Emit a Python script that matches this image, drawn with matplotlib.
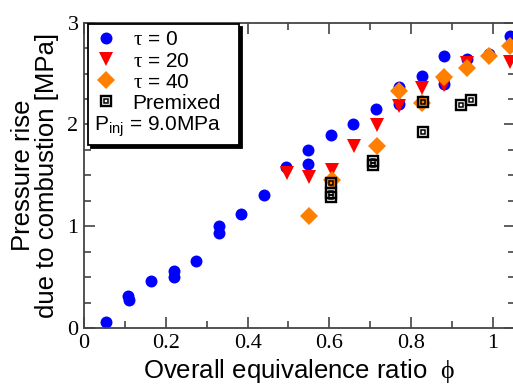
import matplotlib
matplotlib.use("Agg")
import matplotlib.pyplot as plt
from matplotlib.ticker import MultipleLocator

plt.rcParams['font.family'] = ['Liberation Sans', 'DejaVu Sans']
plt.rcParams['mathtext.fontset'] = 'custom'
plt.rcParams['mathtext.rm'] = 'Liberation Sans'
plt.rcParams['mathtext.it'] = 'Liberation Serif'
plt.rcParams['mathtext.sf'] = 'Liberation Sans'

# tau = 0
phi_t0 = [0.054, 0.108, 0.110, 0.164, 0.219, 0.219, 0.274, 0.329, 0.329, 0.384,
          0.440, 0.494, 0.549, 0.549, 0.605, 0.659, 0.715, 0.770, 0.770, 0.826,
          0.881, 0.881, 0.936, 0.991, 1.042]
dp_t0 = [0.06, 0.31, 0.28, 0.46, 0.56, 0.50, 0.66, 1.00, 0.93, 1.12,
         1.31, 1.58, 1.75, 1.61, 1.90, 2.00, 2.15, 2.37, 2.20, 2.48,
         2.67, 2.40, 2.64, 2.69, 2.87]
# tau = 20
phi_t20 = [0.496, 0.551, 0.606, 0.661, 0.716, 0.770, 0.826, 0.880, 0.936, 1.042]
dp_t20 = [1.52, 1.48, 1.55, 1.79, 1.99, 2.18, 2.36, 2.39, 2.60, 2.61]
# tau = 40
phi_t40 = [0.551, 0.606, 0.716, 0.770, 0.826, 0.880, 0.936, 0.991, 1.042]
dp_t40 = [1.10, 1.45, 1.79, 2.33, 2.21, 2.47, 2.55, 2.67, 2.77]
# premixed
phi_pm = [0.603, 0.603, 0.603, 0.706, 0.706, 0.828, 0.828, 0.921, 0.946]
dp_pm = [1.42, 1.33, 1.29, 1.64, 1.60, 2.22, 1.93, 2.19, 2.24]

fig = plt.figure(figsize=(5.13, 3.89), dpi=100)
ax = fig.add_axes([84 / 513, 61 / 389, 431 / 513, 305.3 / 389])

h0, = ax.plot(phi_t0, dp_t0, 'o', color='#0000ff', ms=8.6, mew=0)
h20, = ax.plot(phi_t20, dp_t20, 'v', color='#ff0000', ms=10, mew=0)
h40, = ax.plot(phi_t40, dp_t40, 'D', color='#ff8000', ms=9, mew=0)
hpm1, = ax.plot(phi_pm, dp_pm, 's', mfc='none', mec='black', ms=7.6, mew=1.7)
hpm2, = ax.plot(phi_pm, dp_pm, 's', mfc='none', mec='black', ms=3.0, mew=1.1)

ax.set_xlim(0, 1.054)
ax.set_ylim(0, 3)
ax.xaxis.set_major_locator(MultipleLocator(0.2))
ax.xaxis.set_minor_locator(MultipleLocator(0.1))
ax.yaxis.set_major_locator(MultipleLocator(1))
ax.yaxis.set_minor_locator(MultipleLocator(0.25))
ax.xaxis.set_major_formatter(plt.FuncFormatter(lambda v, p: '%g' % round(v, 2)))
ax.tick_params(which='both', direction='in', top=True, right=True,
               color='#444444', width=1.2, labelsize=16, pad=4)
ax.tick_params(which='major', length=8)
ax.tick_params(which='minor', length=5)
for lab in ax.get_xticklabels() + ax.get_yticklabels():
    lab.set_fontfamily('Liberation Serif')
for sp in ax.spines.values():
    sp.set_color('#444444')
    sp.set_linewidth(1.3)

ax.set_xlabel(r'Overall equivalence ratio  $\phi$', fontsize=18.5, labelpad=3)
ax.set_ylabel('Pressure rise\ndue to combustion [MPa]', fontsize=18.5,
              linespacing=1.0)
ax.yaxis.set_label_coords(-0.058, 0.5)

leg = ax.legend([h0, h20, h40, (hpm1, hpm2)],
                [r'$\tau$ = 0', r'$\tau$ = 20', r'$\tau$ = 40', 'Premixed'],
                title=r'P$_{\rm inj}$ = 9.0MPa   ', title_fontsize=15,
                fontsize=15, alignment='left',
                loc='upper left', bbox_to_anchor=(0.009, 0.995), borderaxespad=0,
                fancybox=False, edgecolor='black', framealpha=1,
                shadow={'color': 'black', 'alpha': 1.0},
                handlelength=1.1, handletextpad=0.75, labelspacing=0.1,
                borderpad=0.3)
leg.get_frame().set_linewidth(1.3)
# put the injection pressure line below the entries
leg._legend_box._children.reverse()

fig.savefig('out.png', dpi=100)
